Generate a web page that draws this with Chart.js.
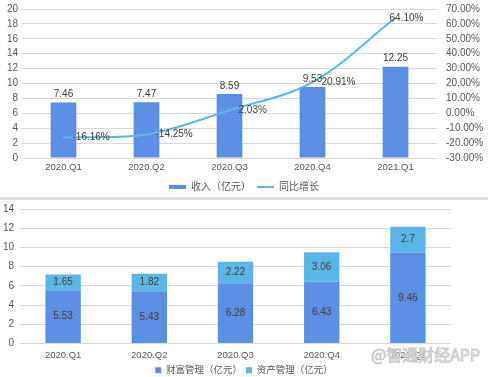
<!DOCTYPE html>
<html>
<head>
<meta charset="utf-8">
<script src="https://cdn.jsdelivr.net/npm/chart.js@4/dist/chart.umd.min.js"></script>
<style>
  html, body { margin: 0; padding: 0; background: #fff; }
  #wrap { position: relative; width: 488px; height: 377px; overflow: hidden; }
  #topBox { position: absolute; left: 0; top: 0; width: 488px; height: 197px; overflow: hidden; }
  #sep { position: absolute; left: 0; top: 197px; width: 488px; height: 3px; background: #dedede; }
  #botBox { position: absolute; left: 0; top: 200px; width: 488px; height: 177px; overflow: hidden; }
</style>
</head>
<body>
<div id="wrap">
  <div id="topBox"><canvas id="revenueChart" width="488" height="202"></canvas></div>
  <div id="sep"></div>
  <div id="botBox"><canvas id="segmentChart" width="488" height="185"></canvas></div>
</div>
<script>
// ---------- Data ----------
const quarters = ["2020.Q1", "2020.Q2", "2020.Q3", "2020.Q4", "2021.Q1"];
const revenue = [7.46, 7.47, 8.59, 9.53, 12.25];
const yoyGrowth = [-16.16, -14.25, 2.03, 20.91, 64.10];
const wealthMgmt = [5.53, 5.43, 6.28, 6.43, 9.46];
const assetMgmt = [1.65, 1.82, 2.22, 3.06, 2.7];

const revenueTicks = [0, 2, 4, 6, 8, 10, 12, 14, 16, 18, 20];
const growthTicks = [-30, -20, -10, 0, 10, 20, 30, 40, 50, 60, 70];
const segmentTicks = [0, 2, 4, 6, 8, 10, 12, 14];

const FONT = "'Liberation Sans', Arial, 'Noto Sans CJK SC', sans-serif";
const TICK_COLOR = "#595959";
const LABEL_COLOR = "#404040";
const GRID_COLOR = "#d9d9d9";
const BAR_BLUE = "#5b8fe3";
const LIGHT_BLUE = "#5ab6e6";
const LINE_BLUE = "#5cb8e2";

Chart.defaults.font.family = FONT;
Chart.defaults.color = TICK_COLOR;
Chart.defaults.animation = false;

const setTicks = list => axis => { axis.ticks = list.map(v => ({ value: v })); };
// fixed axis size, and no extra label padding pushing the plot area
const fixSize = (w, h) => a => {
  if (w != null) a.width = w;
  if (h != null) a.height = h;
  a.paddingTop = 0;
  a.paddingBottom = 0;
};

// value labels drawn on top of the marks
const valueLabels = {
  id: "valueLabels",
  afterDatasetsDraw(chart, args, opts) {
    const ctx = chart.ctx;
    ctx.save();
    ctx.font = "10px " + FONT;
    ctx.fillStyle = LABEL_COLOR;
    ctx.textBaseline = "middle";
    chart.data.datasets.forEach((ds, di) => {
      const meta = chart.getDatasetMeta(di);
      meta.data.forEach((el, i) => {
        const v = ds.data[i];
        if (ds.type === "line") {
          const last = i === ds.data.length - 1;
          ctx.textAlign = last ? "center" : "left";
          ctx.fillText(v.toFixed(2) + "%", last ? el.x + 11 : el.x + 9, el.y);
        } else if (opts.mode === "top") {
          ctx.textAlign = "center";
          ctx.fillText(String(v), el.x, el.y - 8);
        } else {
          ctx.textAlign = "center";
          ctx.fillText(String(v), el.x, (el.y + el.base) / 2);
        }
      });
    });
    ctx.restore();
  }
};

// watermark
const watermark = {
  id: "watermark",
  afterDraw(chart) {
    const ctx = chart.ctx;
    ctx.save();
    ctx.font = "16px 'Noto Sans CJK SC', " + FONT;
    ctx.textAlign = "left";
    ctx.textBaseline = "middle";
    ctx.lineWidth = 1;
    ctx.strokeStyle = "#cacaca";
    ctx.fillStyle = "rgba(255,255,255,0.75)";
    ctx.fillText("@智通财经APP", 371, 155);
    ctx.strokeText("@智通财经APP", 371, 155);
    ctx.restore();
  }
};

// ---------- Revenue + YoY ----------
new Chart(document.getElementById("revenueChart"), {
  data: {
    labels: quarters,
    datasets: [
      {
        type: "bar",
        label: "收入（亿元）",
        data: revenue,
        backgroundColor: BAR_BLUE,
        yAxisID: "y",
        order: 1,
        categoryPercentage: 1,
        barPercentage: 0.31
      },
      {
        type: "line",
        label: "同比增长",
        data: yoyGrowth,
        borderColor: LINE_BLUE,
        backgroundColor: LINE_BLUE,
        borderWidth: 2,
        pointRadius: 0,
        tension: 0.35,
        yAxisID: "y1",
        order: 0
      }
    ]
  },
  options: {
    responsive: false,
    layout: { padding: { top: 9, left: 0, right: 0, bottom: 0 } },
    plugins: {
      legend: {
        position: "bottom",
        labels: {
          font: { size: 10 },
          color: TICK_COLOR,
          usePointStyle: true,
          pointStyleWidth: 17,
          boxHeight: 4,
          padding: 6,
          sort: (a, b) => a.datasetIndex - b.datasetIndex,
          generateLabels: chart => {
            const items = Chart.defaults.plugins.legend.labels.generateLabels(chart);
            items.forEach(it => {
              if (it.datasetIndex === 0) {
                it.pointStyle = "rect";
                it.lineWidth = 0;
              } else {
                it.pointStyle = "line";
                it.lineWidth = 2;
                it.strokeStyle = LINE_BLUE;
              }
            });
            return items;
          }
        }
      },
      tooltip: { enabled: false },
      valueLabels: { mode: "top" }
    },
    scales: {
      x: {
        grid: { display: false, drawTicks: false },
        border: { display: false },
        ticks: { font: { size: 9.5 }, padding: 4, maxRotation: 0, autoSkip: false },
        afterFit: fixSize(null, 18)
      },
      y: {
        position: "left",
        min: 0,
        max: 20,
        afterBuildTicks: setTicks(revenueTicks),
        grid: { color: GRID_COLOR, drawTicks: false },
        border: { display: false },
        ticks: { font: { size: 10 }, padding: 4, autoSkip: false },
        afterFit: fixSize(22, null)
      },
      y1: {
        position: "right",
        min: -30,
        max: 70,
        afterBuildTicks: setTicks(growthTicks),
        grid: { display: false, drawTicks: false },
        border: { display: false },
        ticks: { font: { size: 10 }, padding: 9, autoSkip: false, callback: v => v.toFixed(2) + "%" },
        afterFit: fixSize(51, null)
      }
    }
  },
  plugins: [valueLabels]
});

// ---------- Wealth / Asset management ----------
new Chart(document.getElementById("segmentChart"), {
  type: "bar",
  data: {
    labels: quarters,
    datasets: [
      {
        label: "财富管理（亿元）",
        data: wealthMgmt,
        backgroundColor: BAR_BLUE,
        categoryPercentage: 1,
        barPercentage: 0.41
      },
      {
        label: "资产管理（亿元）",
        data: assetMgmt,
        backgroundColor: LIGHT_BLUE,
        categoryPercentage: 1,
        barPercentage: 0.41
      }
    ]
  },
  options: {
    responsive: false,
    layout: { padding: { top: 9, left: 0, right: 0, bottom: 0 } },
    plugins: {
      legend: {
        position: "bottom",
        labels: {
          font: { size: 9.5 },
          color: TICK_COLOR,
          boxWidth: 6,
          boxHeight: 6,
          padding: 4
        }
      },
      tooltip: { enabled: false },
      valueLabels: { mode: "center" }
    },
    scales: {
      x: {
        stacked: true,
        grid: { display: false, drawTicks: false },
        border: { display: false },
        ticks: { font: { size: 9.5 }, padding: 6, maxRotation: 0, autoSkip: false },
        afterFit: fixSize(null, 18)
      },
      y: {
        stacked: true,
        min: 0,
        max: 14,
        afterBuildTicks: setTicks(segmentTicks),
        grid: { color: GRID_COLOR, drawTicks: false },
        border: { display: false },
        ticks: { font: { size: 10 }, padding: 6, autoSkip: false },
        afterFit: fixSize(20, null)
      },
      // empty strip on the right, same as the picture
      blank: {
        position: "right",
        display: true,
        grid: { display: false, drawTicks: false },
        border: { display: false },
        ticks: { display: false },
        afterFit: fixSize(37, null)
      }
    }
  },
  plugins: [valueLabels, watermark]
});
</script>
</body>
</html>
